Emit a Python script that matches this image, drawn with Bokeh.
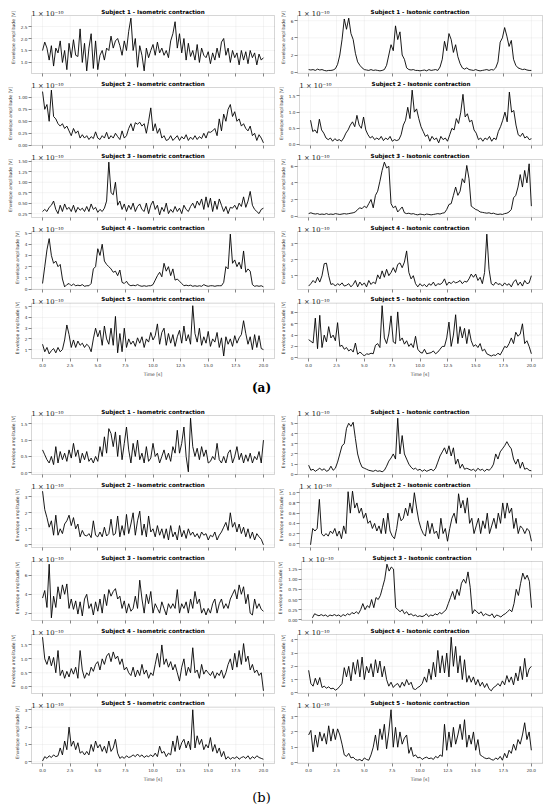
import numpy as np
from bokeh.plotting import figure
from bokeh.models import Range1d, FixedTicker, Label, NumeralTickFormatter, CustomJSTickFormatter, BoxAnnotation
from bokeh.layouts import column, row
from bokeh.embed import file_html
from bokeh.resources import INLINE

subjects = ["Subject 1", "Subject 2", "Subject 3", "Subject 4", "Subject 5"]
contractions = ["Isometric contraction", "Isotonic contraction"]
x_tick_labels = ["0.0", "2.5", "5.0", "7.5", "10.0", "12.5", "15.0", "17.5", "20.0"]
duration = 20.0
offset_text = "1 \u00d7 10\u207b\u00b9\u2070"
group_labels = ["(a)", "(b)"]
y_label = "Envelope amplitude [V]"
x_label = "Time [s]"

# ---------------- (a) isometric ----------------
a_iso_1 = [1.5, 1.85, 1.6, 1.1, 1.7, 0.85, 1.6, 1.4, 1.9, 1.0, 1.5,
           0.7, 1.8, 1.2, 1.95, 1.3, 1.25, 2.4, 1.0, 1.8, 0.65,
           1.6, 2.2, 0.75, 1.9, 0.7, 1.3, 1.5, 1.1, 1.6, 1.5,
           2.1, 1.6, 1.9, 2.0, 1.7, 1.3, 1.9, 1.5, 2.3, 2.85,
           1.5, 2.0, 0.8, 1.7, 1.3, 0.65, 1.6, 1.2, 1.5, 1.75,
           1.3, 1.85, 1.4, 1.6, 1.3, 1.5, 1.2, 1.9, 2.2, 2.7,
           1.6, 2.2, 1.4, 2.0, 1.1, 1.8, 1.25, 1.5, 1.1, 1.75,
           1.0, 1.6, 1.3, 1.2, 1.45, 0.95, 1.4, 1.1, 1.6, 1.2,
           1.85, 2.0, 1.3, 1.6, 1.0, 1.5, 1.2, 1.4, 0.9, 1.5,
           1.1, 1.45, 0.95, 1.5, 1.2, 1.4, 0.9, 1.35, 1.1, 1.2]
a_iso_2 = [1.12, 0.75, 0.85, 0.5, 1.15, 0.6, 0.55, 0.45, 0.4, 0.45, 0.35,
           0.4, 0.3, 0.2, 0.35, 0.25, 0.3, 0.15, 0.22, 0.15, 0.2,
           0.12, 0.18, 0.14, 0.28, 0.15, 0.12, 0.2, 0.15, 0.27, 0.13,
           0.2, 0.15, 0.25, 0.18, 0.12, 0.3, 0.15, 0.2, 0.35, 0.45,
           0.3, 0.47, 0.44, 0.48, 0.4, 0.45, 0.25, 0.5, 0.78, 0.3,
           0.45, 0.25, 0.35, 0.15, 0.2, 0.1, 0.12, 0.2, 0.1, 0.15,
           0.2, 0.1, 0.18, 0.13, 0.22, 0.1, 0.17, 0.12, 0.2, 0.12,
           0.18, 0.14, 0.25, 0.15, 0.28, 0.27, 0.3, 0.35, 0.2, 0.55,
           0.3, 0.65, 0.5, 0.75, 0.85, 0.6, 0.7, 0.5, 0.55, 0.4,
           0.45, 0.35, 0.3, 0.4, 0.2, 0.25, 0.1, 0.22, 0.15, 0.05]
a_iso_3 = [0.3, 0.35, 0.3, 0.4, 0.45, 0.55, 0.35, 0.25, 0.45, 0.3, 0.48,
           0.35, 0.4, 0.3, 0.45, 0.28, 0.4, 0.33, 0.38, 0.3, 0.42,
           0.3, 0.48, 0.35, 0.4, 0.28, 0.35, 0.3, 0.38, 0.55, 1.48,
           0.75, 0.7, 1.0, 0.45, 0.55, 0.35, 0.48, 0.3, 0.45, 0.35,
           0.5, 0.3, 0.42, 0.48, 0.35, 0.3, 0.5, 0.25, 0.45, 0.55,
           0.35, 0.45, 0.22, 0.4, 0.3, 0.5, 0.25, 0.35, 0.28, 0.42,
           0.3, 0.38, 0.25, 0.45, 0.35, 0.3, 0.42, 0.5, 0.38, 0.55,
           0.45, 0.6, 0.35, 0.65, 0.4, 0.62, 0.3, 0.55, 0.35, 0.6,
           0.45, 0.3, 0.42, 0.25, 0.4, 0.38, 0.45, 0.35, 0.5, 0.42,
           0.65, 0.4, 0.55, 0.78, 0.45, 0.35, 0.3, 0.25, 0.35, 0.38]
a_iso_4 = [0.5, 2.0, 3.5, 4.5, 3.0, 2.3, 2.5, 2.0, 2.2, 0.9, 0.2,
           0.4, 0.5, 0.3, 0.45, 0.3, 0.35, 0.3, 0.4, 0.25, 0.3,
           0.3, 0.5, 1.8, 2.0, 3.6, 3.0, 4.0, 2.5, 2.2, 2.0,
           1.8, 1.5, 1.6, 1.2, 1.7, 0.6, 0.5, 0.7, 0.4, 0.3,
           0.35, 0.3, 0.4, 0.3, 0.25, 0.3, 0.25, 0.3, 0.3, 0.4,
           0.8, 1.2, 1.5, 1.1, 2.3, 1.6, 2.0, 1.2, 1.8, 0.8,
           0.9, 0.7, 0.5, 0.3, 0.35, 0.3, 0.35, 0.25, 0.3, 0.25,
           0.3, 0.25, 0.4, 0.3, 0.25, 0.3, 0.3, 0.25, 0.3, 0.3,
           0.3, 0.6, 2.0, 1.8, 4.9, 2.3, 2.6, 2.0, 2.4, 1.8,
           3.4, 1.5, 1.8, 1.6, 0.4, 0.25, 0.3, 0.25, 0.3, 0.2]
a_iso_5 = [1.5, 0.8, 1.2, 0.6, 0.9, 1.1, 0.7, 1.2, 0.8, 1.0, 1.9,
           3.3, 2.4, 1.2, 1.9, 1.2, 1.8, 1.4, 1.6, 1.2, 1.5,
           1.3, 0.8, 2.0, 3.0, 2.2, 2.8, 1.4, 3.2, 2.0, 1.5,
           3.0, 1.4, 4.1, 0.7, 2.5, 0.8, 3.0, 1.2, 2.0, 1.5,
           1.8, 1.3, 2.1, 1.6, 2.2, 1.2, 2.0, 1.7, 2.6, 1.9,
           2.3, 3.4, 1.5, 2.6, 3.0, 1.4, 2.5, 1.6, 2.4, 1.3,
           2.2, 2.8, 1.6, 3.2, 1.8, 2.4, 1.5, 5.1, 2.5, 1.7,
           3.0, 1.4, 2.2, 1.6, 2.7, 1.3, 2.0, 1.7, 2.6, 1.2,
           2.1, 0.4, 2.2, 1.5, 2.0, 1.3, 2.3, 1.6, 2.1, 2.4,
           3.7, 2.5, 1.5, 2.2, 1.0, 2.4, 1.2, 2.3, 1.1, 1.0]

# ---------------- (a) isotonic ----------------
a_ton_1 = [0.3, 0.25, 0.3, 0.2, 0.35, 0.25, 0.3, 0.2, 0.15, 0.2, 0.2,
           0.25, 0.4, 0.9, 2.0, 3.8, 6.2, 5.0, 6.3, 4.5, 3.8,
           2.2, 1.2, 0.8, 0.5, 0.3, 0.25, 0.2, 0.3, 0.2, 0.25,
           0.2, 0.15, 0.2, 0.3, 0.8, 2.0, 3.2, 2.5, 5.4, 3.8,
           4.7, 2.0, 1.5, 0.5, 0.3, 0.25, 0.3, 0.2, 0.2, 0.15,
           0.2, 0.25, 0.15, 0.3, 0.2, 0.25, 0.3, 0.2, 0.6, 1.5,
           3.6, 2.5, 4.5, 3.8, 2.3, 3.2, 1.8, 1.0, 0.5, 0.35,
           0.5, 0.3, 0.25, 0.2, 0.3, 0.2, 0.15, 0.2, 0.25, 0.3,
           0.2, 0.3, 0.25, 0.5, 1.2, 3.5, 4.0, 5.2, 4.2, 3.0,
           3.7, 1.5, 0.8, 0.5, 0.4, 0.3, 0.35, 0.25, 0.2, 0.2]
a_ton_2 = [0.75, 0.4, 0.45, 0.35, 0.78, 0.45, 0.35, 0.2, 0.15, 0.2, 0.1,
           0.18, 0.12, 0.15, 0.1, 0.2, 0.35, 0.45, 0.6, 0.7, 0.55,
           0.9, 0.6, 0.5, 0.85, 0.45, 0.3, 0.2, 0.25, 0.15, 0.2,
           0.15, 0.25, 0.12, 0.2, 0.15, 0.25, 0.1, 0.15, 0.12, 0.15,
           0.3, 0.6, 0.75, 1.15, 0.8, 1.68, 1.0, 1.1, 0.8, 0.55,
           0.4, 0.25, 0.3, 0.1, 0.25, 0.15, 0.2, 0.05, 0.25, 0.15,
           0.2, 0.1, 0.3, 0.5, 0.45, 0.8, 0.65, 1.0, 1.55, 0.85,
           0.95, 0.7, 0.75, 0.45, 0.35, 0.15, 0.2, 0.1, 0.2, 0.15,
           0.25, 0.1, 0.2, 0.15, 0.4, 0.55, 0.75, 1.0, 0.7, 1.62,
           1.0, 1.05, 0.6, 0.3, 0.25, 0.35, 0.2, 0.25, 0.15, 0.18]
a_ton_3 = [0.3, 0.4, 0.3, 0.25, 0.3, 0.2, 0.25, 0.2, 0.3, 0.2, 0.25,
           0.2, 0.3, 0.25, 0.2, 0.25, 0.3, 0.25, 0.3, 0.35, 0.4,
           0.5, 0.8, 1.0, 0.9, 1.2, 1.0, 1.5, 2.0, 1.0, 2.5,
           3.0, 4.2, 5.5, 6.5, 5.8, 6.0, 1.5, 1.0, 1.2, 0.5,
           0.8, 1.1, 0.4, 0.3, 0.35, 0.25, 0.3, 0.2, 0.15, 0.25,
           0.2, 0.15, 0.25, 0.2, 0.15, 0.2, 0.25, 0.3, 0.25, 0.35,
           0.4, 0.8, 1.4, 1.5, 2.5, 3.5, 2.5, 3.0, 4.5, 4.0,
           6.1, 4.5, 1.2, 1.0, 0.8, 0.7, 0.5, 0.45, 0.4, 0.35,
           0.4, 0.3, 0.35, 0.25, 0.2, 0.25, 0.2, 0.3, 0.35, 0.5,
           0.8, 2.2, 2.5, 3.5, 5.0, 3.5, 5.5, 4.0, 6.3, 1.2]
a_ton_4 = [0.35, 0.5, 0.7, 0.55, 0.9, 0.6, 1.0, 1.75, 1.78, 1.0, 0.45,
           0.5, 0.35, 0.5, 0.4, 0.55, 0.35, 0.4, 0.5, 0.3, 0.45,
           0.7, 0.3, 0.6, 0.4, 0.55, 0.3, 0.7, 0.45, 0.6, 0.5,
           1.05, 0.8, 1.3, 0.9, 1.4, 1.0, 1.2, 1.5, 1.2, 1.7,
           1.8, 1.5, 1.85, 2.55, 1.2, 0.8, 1.0, 0.5, 0.3, 0.5,
           0.35, 0.45, 0.3, 0.5, 0.4, 0.6, 0.35, 0.5, 0.45, 0.55,
           0.8, 0.4, 0.6, 0.5, 0.65, 0.55, 0.6, 0.7, 0.5, 0.65,
           0.6, 0.8, 1.1, 0.9, 1.1, 0.7, 0.9, 0.5, 1.2, 3.6,
           1.4, 0.5, 0.4, 0.6, 0.45, 0.5, 0.35, 0.55, 0.4, 0.5,
           0.3, 0.6, 0.75, 0.4, 0.6, 0.35, 0.7, 0.5, 0.55, 1.0]
a_ton_5 = [3.2, 2.9, 2.6, 7.0, 1.6, 7.5, 1.8, 4.0, 2.8, 5.5, 3.5,
           4.0, 3.0, 6.2, 2.0, 2.2, 1.5, 1.8, 1.2, 1.5, 1.0,
           2.6, 0.6, 1.0, 0.7, 0.3, 0.7, 0.6, 0.8, 0.7, 2.2,
           2.5, 1.8, 9.2, 3.5, 2.5, 4.2, 7.4, 2.8, 2.5, 8.1,
           3.0, 3.5, 2.4, 3.0, 2.0, 2.5, 1.8, 3.8, 1.5, 1.0,
           0.8, 1.5, 0.7, 0.8, 0.9, 1.2, 0.7, 1.0, 1.5, 2.0,
           2.0, 3.5, 6.3, 2.0, 4.0, 7.6, 2.5, 5.5, 3.5, 5.2,
           2.5, 5.0, 3.0, 2.0, 2.3, 1.8, 2.5, 1.2, 1.5, 0.7,
           0.5, 0.3, 0.5, 0.4, 0.8, 0.5, 1.2, 2.0, 1.8, 2.5,
           3.5, 2.5, 4.5, 3.8, 4.2, 6.0, 2.5, 3.0, 2.0, 0.7]

# ---------------- (b) isometric ----------------
b_iso_1 = [0.7, 0.55, 0.4, 0.3, 0.5, 0.25, 0.8, 0.3, 0.65, 0.4, 0.6,
           0.35, 0.7, 0.45, 0.9, 0.5, 0.7, 0.3, 0.6, 0.4, 0.65,
           0.35, 0.45, 0.3, 0.5, 0.35, 0.8, 0.5, 1.1, 0.6, 1.35,
           1.2, 0.8, 1.25, 0.5, 1.15, 0.4, 0.9, 1.4, 0.7, 0.3,
           0.9, 0.5, 1.0, 0.4, 0.6, 0.3, 0.8, 0.35, 0.45, 0.9,
           0.5, 0.6, 0.3, 0.5, 0.7, 0.4, 0.6, 0.35, 0.8, 0.6,
           1.3, 0.6, 0.9, 1.4, 0.5, 0.03, 1.67, 0.8, 0.5, 0.75,
           0.4, 0.8, 0.5, 0.7, 0.3, 0.35, 0.5, 0.4, 0.9, 0.4,
           0.3, 0.5, 0.3, 0.6, 0.7, 0.3, 0.5, 0.8, 0.4, 0.6,
           0.3, 0.55, 0.35, 0.6, 0.3, 0.5, 0.4, 0.65, 0.3, 1.0]
b_iso_2 = [3.35, 2.2, 1.7, 1.1, 1.5, 0.6, 1.85, 0.6, 1.0, 0.7, 1.3,
           1.5, 1.85, 1.2, 1.7, 1.0, 1.3, 0.5, 0.9, 0.6, 0.55,
           0.7, 0.45, 1.5, 0.6, 0.5, 0.8, 0.5, 1.1, 0.55, 0.7,
           1.6, 0.6, 0.7, 1.8, 0.5, 1.2, 0.6, 1.9, 0.7, 1.3,
           2.0, 0.6, 1.5, 2.1, 0.6, 1.3, 0.5, 1.8, 0.8, 1.0,
           0.5, 1.2, 0.6, 1.0, 0.4, 1.0, 0.3, 1.2, 0.5, 0.8,
           0.3, 1.2, 0.5, 0.9, 0.4, 1.0, 0.6, 0.8, 0.5, 0.7,
           0.4, 0.8, 0.6, 0.7, 0.3, 0.6, 0.5, 0.8, 0.3, 0.6,
           0.8, 1.1, 1.4, 0.9, 2.0, 1.1, 1.4, 0.8, 1.3, 0.7,
           1.1, 0.5, 1.0, 0.4, 0.8, 0.3, 0.7, 0.5, 0.35, 0.0]
b_iso_3 = [3.6, 4.4, 2.6, 7.2, 1.5, 3.8, 2.6, 4.8, 3.5, 5.0, 4.0,
           5.1, 2.5, 3.5, 2.4, 3.3, 1.9, 3.2, 1.7, 3.5, 4.0,
           2.5, 3.0, 1.8, 3.2, 2.2, 3.5, 2.0, 4.0, 2.8, 4.5,
           3.8, 4.3, 4.6, 3.5, 3.8, 2.5, 3.3, 2.0, 3.0, 2.2,
           2.5, 3.8, 2.5, 5.5, 3.5, 2.0, 4.0, 3.0, 4.3, 2.0,
           3.0, 2.5, 2.0, 3.2, 2.5, 1.8, 3.0, 2.5, 3.0, 2.5,
           4.5, 2.0, 3.0, 2.5, 3.2, 2.0, 3.5, 2.5, 4.3, 3.0,
           3.5, 2.0, 2.5, 1.8, 2.5, 2.0, 3.0, 3.5, 2.0, 3.0,
           3.5, 2.5, 3.0, 2.5, 3.5, 4.0, 4.5, 3.5, 5.0, 4.0,
           4.8, 3.0, 4.0, 2.0, 1.8, 3.5, 2.5, 3.0, 2.4, 2.2]
b_iso_4 = [1.78, 1.0, 0.8, 1.1, 0.75, 1.05, 0.5, 1.3, 0.4, 0.6, 0.3,
           0.55, 0.35, 0.65, 0.45, 0.7, 0.3, 1.3, 0.6, 0.3, 0.5,
           0.4, 0.7, 0.55, 0.8, 0.9, 0.6, 1.0, 0.8, 1.1, 1.2,
           0.9, 1.25, 1.0, 1.1, 0.8, 1.0, 0.6, 0.7, 0.5, 0.4,
           0.7, 0.35, 0.6, 0.4, 0.8, 0.45, 0.6, 0.3, 0.5, 0.4,
           0.8, 1.2, 0.7, 1.5, 0.8, 1.0, 0.7, 0.9, 0.6, 0.8,
           0.5, 0.2, 0.7, 1.0, 0.4, 0.7, 0.5, 1.4, 0.5, 0.6,
           0.3, 0.8, 0.45, 0.6, 0.5, 0.4, 0.55, 0.3, 0.5, 0.4,
           0.6, 0.3, 0.5, 0.8, 1.0, 0.6, 1.2, 0.7, 1.3, 0.8,
           1.55, 0.9, 1.1, 0.6, 0.8, 0.5, 0.6, 0.4, 0.5, -0.15]
b_iso_5 = [0.05, 0.3, 0.2, 0.35, 0.25, 0.4, 0.3, 0.35, 0.8, 0.4, 1.2,
           0.7, 2.0, 0.9, 1.2, 0.7, 1.1, 0.5, 0.6, 0.4, 0.6,
           0.4, 1.0, 0.6, 1.2, 0.8, 1.0, 0.6, 0.9, 0.5, 1.2,
           0.6, 0.8, 1.3, 0.5, 0.2, 0.3, 0.2, 0.35, 0.25, 0.3,
           0.4, 0.3, 0.45, 0.3, 0.4, 0.25, 0.35, 0.3, 0.4, 0.3,
           0.5, 0.3, 0.9, 0.5, 0.6, 0.3, 0.5, 0.4, 1.2, 0.6,
           1.5, 0.7, 1.1, 1.3, 0.8, 1.2, 0.7, 3.0, 0.8, 1.5,
           1.0, 1.3, 0.7, 1.0, 0.8, 1.4, 0.6, 1.0, 0.5, 0.8,
           0.3, 0.6, 0.15, 0.3, 0.15, 0.25, 0.2, 0.3, 0.15, 0.25,
           0.3, 0.2, 0.35, 0.15, 0.3, 0.2, 0.35, 0.25, 0.2, 0.15]

# ---------------- (b) isotonic ----------------
b_ton_1 = [0.9, 0.4, 0.5, 0.3, 0.45, 0.6, 0.4, 0.55, 0.3, 0.4, 0.8,
           0.4, 0.6, 1.2, 2.0, 2.8, 3.0, 4.5, 5.0, 4.7, 5.1,
           3.5, 2.0, 1.2, 0.7, 0.6, 0.5, 0.4, 0.35, 0.3, 0.4,
           0.3, 0.35, 0.25, 0.4, 0.8, 1.3, 1.6, 2.0, 1.5, 5.5,
           2.0, 3.8, 2.0, 1.5, 1.0, 0.7, 0.5, 0.6, 0.4, 0.5,
           0.3, 0.45, 0.3, 0.4, 0.5, 0.35, 0.6, 1.2, 1.8, 2.2,
           2.6, 2.0, 2.8, 1.8, 2.6, 1.0, 1.5, 0.6, 1.0, 0.5,
           0.6, 0.5, 0.4, 0.5, 0.3, 0.6, 0.4, 0.5, 0.3, 0.5,
           0.4, 0.6, 1.0, 2.0, 1.5, 2.2, 2.5, 2.8, 3.2, 2.8,
           2.5, 1.5, 1.0, 1.5, 0.6, 1.2, 0.5, 0.6, 0.4, 0.35]
b_ton_2 = [-0.02, 0.3, 0.25, 0.3, 0.87, 0.2, 0.15, 0.2, 0.15, 0.25, 0.2,
           0.3, 0.15, 0.25, 0.1, 0.35, 0.2, 1.02, 0.6, 1.03, 0.7,
           0.8, 0.6, 0.7, 0.5, 0.6, 0.4, 0.45, 0.3, 0.4, 0.25,
           0.35, 0.2, 0.5, 0.2, 0.6, 0.25, 0.15, 0.1, 0.3, 0.6,
           0.45, 0.5, 0.7, 0.55, 0.8, 0.6, 1.0, 0.7, 0.45, 0.3,
           0.2, 0.15, 0.45, 0.2, 0.4, 0.2, 0.25, 0.1, 0.5, 0.2,
           0.3, 0.05, 0.3, 0.5, 0.6, 0.4, 0.98, 0.7, 0.85, 0.6,
           0.9, 0.4, 0.5, 0.2, 0.35, 0.5, 0.2, 0.45, 0.3, 0.6,
           0.2, 0.35, 0.5, 0.3, 0.6, 0.4, 0.8, 0.5, 0.8, 0.6,
           0.7, 0.3, 0.5, 0.2, 0.35, 0.3, 0.2, 0.3, 0.25, 0.05]
b_ton_3 = [0.05, 0.15, 0.12, 0.1, 0.13, 0.1, 0.12, 0.08, 0.12, 0.1, 0.13,
           0.1, 0.12, 0.08, 0.13, 0.1, 0.15, 0.12, 0.18, 0.15, 0.2,
           0.15, 0.25, 0.4, 0.25, 0.35, 0.3, 0.5, 0.3, 0.55, 0.5,
           0.6, 0.8, 1.0, 1.37, 1.2, 1.3, 1.25, 0.3, 0.25, 0.2,
           0.25, 0.15, 0.2, 0.12, 0.15, 0.1, 0.12, 0.08, 0.1, 0.08,
           0.1, 0.15, 0.08, 0.12, 0.1, 0.15, 0.12, 0.18, 0.15, 0.2,
           0.25, 0.4, 0.55, 0.7, 0.5, 0.75, 0.6, 0.9, 1.0, 0.9,
           1.18, 0.8, 0.15, 0.25, 0.2, 0.15, 0.2, 0.1, 0.15, 0.12,
           0.1, 0.15, 0.05, 0.12, 0.1, 0.07, 0.12, 0.15, 0.2, 0.25,
           0.2, 0.4, 0.75, 0.6, 0.9, 1.15, 1.0, 1.1, 0.95, 0.3]
b_ton_4 = [1.7, 0.7, 0.5, 1.1, 0.6, 1.15, 0.4, 0.5, 0.35, 0.45, 0.3,
           0.35, 0.2, 0.3, 0.5, 0.7, 1.9, 1.2, 2.0, 0.9, 2.3,
           1.4, 2.5, 1.2, 2.7, 1.0, 2.0, 1.5, 2.2, 1.2, 2.5,
           1.5, 2.4, 1.2, 2.0, 1.0, 0.5, 0.8, 0.4, 0.6, 0.7,
           0.4, 0.8, 0.5, 1.0, 0.6, 0.8, 0.3, 0.25, 0.4, 0.5,
           0.7, 1.2, 0.8, 1.8, 1.0, 2.3, 1.2, 3.2, 1.5, 2.8,
           1.5, 3.0, 1.2, 4.2, 2.0, 3.5, 1.5, 2.8, 1.0, 2.5,
           0.8, 1.3, 0.8, 1.2, 0.6, 1.0, 0.5, 0.8, 0.4, 0.7,
           0.3, 0.15, 0.4, 0.5, 0.7, 0.5, 0.9, 0.6, 1.3, 0.8,
           1.2, 0.6, 1.5, 0.9, 2.0, 1.0, 2.6, 1.2, 1.8, 2.0]
b_ton_5 = [1.8, 2.1, 0.7, 1.8, 1.0, 2.0, 1.4, 1.9, 1.2, 2.4, 1.4,
           2.2, 1.5, 2.2, 1.8, 1.2, 0.5, 0.4, 0.6, 0.3, 0.35,
           0.2, 0.15, 0.2, 0.1, 0.3, 0.2, 0.15, 0.5, 1.0, 1.8,
           0.8, 2.2, 1.5, 2.5, 0.9, 2.0, 3.45, 1.0, 2.3, 1.0,
           2.0, 1.2, 1.6, 1.8, 0.6, 1.0, 0.4, 0.5, 0.3, 0.35,
           0.2, 0.3, 0.35, 0.25, 0.3, 0.2, 0.4, 0.3, 0.5, 0.4,
           2.5, 0.8, 2.0, 1.0, 2.3, 1.2, 1.8, 2.5, 1.5, 2.8,
           1.0, 1.8, 1.2, 2.0, 0.8, 1.5, 0.5, 0.4, 0.3, 0.25,
           0.3, 0.2, 0.15, 0.3, 0.2, 0.4, 0.15, 0.6, 0.3, 0.8,
           0.6, 1.2, 0.8, 1.5, 1.2, 1.8, 2.6, 1.5, 2.0, 0.8]

# ---------------- y tick labels ----------------
a_iso_ticks = [["1.0", "1.5", "2.0", "2.5"],
               ["0.00", "0.25", "0.50", "0.75", "1.00"],
               ["0.25", "0.50", "0.75", "1.00", "1.25", "1.50"],
               ["0", "1", "2", "3", "4", "5"],
               ["1", "2", "3", "4", "5"]]
a_ton_ticks = [["0", "2", "4", "6"],
               ["0.0", "0.5", "1.0", "1.5"],
               ["0", "2", "4", "6"],
               ["1", "2", "3"],
               ["0", "2", "4", "6", "8"]]
b_iso_ticks = [["0.0", "0.5", "1.0", "1.5"],
               ["0", "1", "2", "3"],
               ["2", "4", "6"],
               ["0.0", "0.5", "1.0", "1.5"],
               ["0", "1", "2", "3"]]
b_ton_ticks = [["0", "1", "2", "3", "4", "5"],
               ["0.0", "0.2", "0.4", "0.6", "0.8", "1.0"],
               ["0.00", "0.25", "0.50", "0.75", "1.00", "1.25"],
               ["0", "1", "2", "3", "4"],
               ["0", "1", "2", "3"]]

groups = [
    ([a_iso_1, a_iso_2, a_iso_3, a_iso_4, a_iso_5], a_iso_ticks,
     [a_ton_1, a_ton_2, a_ton_3, a_ton_4, a_ton_5], a_ton_ticks),
    ([b_iso_1, b_iso_2, b_iso_3, b_iso_4, b_iso_5], b_iso_ticks,
     [b_ton_1, b_ton_2, b_ton_3, b_ton_4, b_ton_5], b_ton_ticks),
]

TXT = "#333333"
GRID = "#d4d4d4"
PAGE_W = 550
COL_W = 275
M = 1  # frame margin (px) around the plotted box so its outline is not clipped
# per column: (left border, right border) measured to the plotted box
BORDERS = {True: (31, 1), False: (22, 8)}


def numeral_for(labels):
    dec = max((len(s.split(".")[1]) if "." in s else 0) for s in labels)
    return NumeralTickFormatter(format="0" if dec == 0 else "0." + "0" * dec)


def make_panel(values, ylabels, title, is_left, band, box_h, bottom_b, show_x):
    bl, br = BORDERS[is_left]
    box_w = COL_W - bl - br
    t = np.linspace(0.0, duration, len(values))
    lo, hi = min(values), max(values)
    pad = 0.05 * (hi - lo)
    y0, y1 = lo - pad, hi + pad
    x0, x1 = -0.05 * duration, 1.05 * duration
    dpp = (y1 - y0) / box_h
    dxp = (x1 - x0) / box_w
    p = figure(width=COL_W, height=band + box_h + bottom_b, output_backend="svg",
               toolbar_location=None, title=None,
               x_range=Range1d(x0 - M * dxp, x1 + M * dxp),
               y_range=Range1d(y0 - M * dpp, y1 + band * dpp),
               min_border_left=bl - M, min_border_right=br - M,
               min_border_top=0, min_border_bottom=bottom_b - M)
    p.grid.visible = False
    p.outline_line_color = None
    p.background_fill_color = "white"
    p.border_fill_color = "white"

    xt = [float(s) for s in x_tick_labels]
    yt = [float(s) for s in ylabels]
    # grid rules limited to the plotted box
    p.segment(x0=xt, y0=[y0] * len(xt), x1=xt, y1=[y1] * len(xt),
              line_color=GRID, line_width=0.5, line_dash="1 1")
    p.segment(x0=[x0] * len(yt), y0=yt, x1=[x1] * len(yt), y1=yt,
              line_color=GRID, line_width=0.5, line_dash="1 1")
    p.line(t, values, line_color="black", line_width=0.9)
    p.add_layout(BoxAnnotation(left=x0, right=x1, bottom=y0, top=y1,
                               fill_color=None, fill_alpha=0,
                               line_color="#555555", line_width=0.8))

    p.xaxis.ticker = FixedTicker(ticks=xt)
    p.yaxis.ticker = FixedTicker(ticks=yt)
    p.xaxis.bounds = (x0, x1)
    p.yaxis.bounds = (y0, y1)
    p.yaxis.formatter = numeral_for(ylabels)
    if show_x:
        p.xaxis.formatter = numeral_for(x_tick_labels)
        p.xaxis.axis_label = x_label
        p.xaxis.axis_label_text_font_size = "4.5px"
        p.xaxis.axis_label_text_font_style = "normal"
        p.xaxis.axis_label_text_font = "DejaVu Sans"
        p.xaxis.axis_label_text_color = TXT
        p.xaxis.axis_label_standoff = 2
    else:
        p.xaxis.formatter = CustomJSTickFormatter(code="return ''")
    for ax in (p.xaxis[0], p.yaxis[0]):
        ax.axis_line_color = None
        ax.major_tick_line_color = TXT
        ax.major_tick_line_width = 0.6
        ax.major_tick_out = 2
        ax.major_tick_in = M
        ax.minor_tick_line_color = None
        ax.major_label_text_font = "DejaVu Sans"
        ax.major_label_text_font_size = "4.2px"
        ax.major_label_text_color = TXT
        ax.major_label_standoff = 1
    p.yaxis.axis_label = y_label
    p.yaxis.axis_label_text_font_size = "4.5px"
    p.yaxis.axis_label_text_font_style = "normal"
    p.yaxis.axis_label_text_font = "DejaVu Sans"
    p.yaxis.axis_label_text_color = TXT
    p.yaxis.axis_label_standoff = 2

    # panel title and offset text inside the band above the plotted box
    p.add_layout(Label(x=(x0 + x1) / 2.0, y=y1 + 4.0 * dpp, text=title,
                       text_font="DejaVu Sans", text_font_size="5.6px", text_font_style="bold",
                       text_color="black", text_align="center", text_baseline="middle"))
    p.add_layout(Label(x=x0, y=y1 + 1.2 * dpp, text=offset_text,
                       text_font="DejaVu Serif", text_font_size="6.8px",
                       text_color="#111111", text_align="left", text_baseline="alphabetic"))
    return p


def caption(text, h, cy, bold, size):
    p = figure(width=PAGE_W, height=h, output_backend="svg", toolbar_location=None, title=None,
               x_axis_type=None, y_axis_type=None,
               x_range=Range1d(0, PAGE_W), y_range=Range1d(0, h),
               min_border_left=0, min_border_right=0, min_border_top=0, min_border_bottom=0)
    p.outline_line_color = None
    p.add_layout(Label(x=261, y=h - cy, text=text, text_font="DejaVu Serif",
                       text_font_size=size, text_font_style="bold" if bold else "normal",
                       text_color="black", text_align="center", text_baseline="middle"))
    return p


specs = [
    dict(bands=[15, 7, 7, 7, 7], box=58, bottoms=[7, 7, 7, 7, 18]),
    dict(bands=[7, 7, 7, 7, 7], box=59, bottoms=[7, 7, 7, 7, 18]),
]
items = []
for gi, (iso, iso_t, ton, ton_t) in enumerate(groups):
    sp = specs[gi]
    for i in range(5):
        last = i == 4
        items.append(row(
            make_panel(iso[i], iso_t[i], f"{subjects[i]} - {contractions[0]}", True,
                       sp["bands"][i], sp["box"], sp["bottoms"][i], last),
            make_panel(ton[i], ton_t[i], f"{subjects[i]} - {contractions[1]}", False,
                       sp["bands"][i], sp["box"], sp["bottoms"][i], last),
            spacing=0))
    if gi == 0:
        items.append(caption(group_labels[0], 29, 8.0, True, "12px"))
    else:
        items.append(caption(group_labels[1], 25, 13.0, False, "13px"))

layout = column(*items, spacing=0)
open("out.html", "w").write(file_html(layout, INLINE))
